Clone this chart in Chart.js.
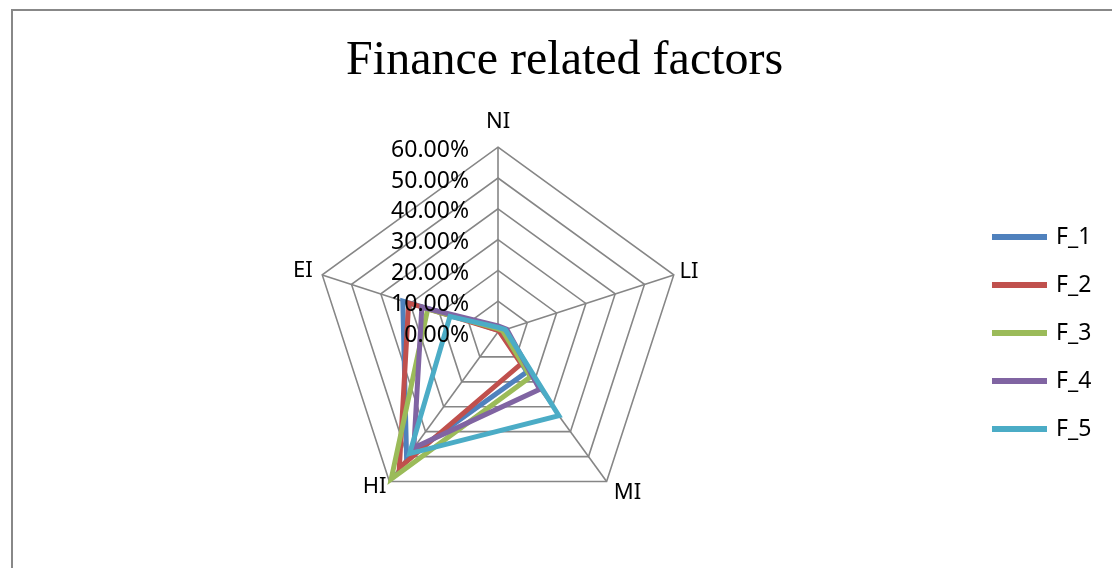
<!DOCTYPE html>
<html>
<head>
<meta charset="utf-8">
<script src="https://cdn.jsdelivr.net/npm/chart.js@4/dist/chart.umd.min.js"></script>
<style>
  html, body { margin: 0; padding: 0; background: #fff; }
  #frame {
    position: absolute; left: 11px; top: 9px; width: 1200px; height: 700px;
    border: 2px solid #888;
  }
  #wrap { position: absolute; left: 0; top: 0; width: 1112px; height: 568px; }
</style>
</head>
<body>
<div id="frame"></div>
<div id="wrap"><canvas id="chart" width="1112" height="568"></canvas></div>
<script>
// Categories (axes) and series, in percent
const axes = ["NI", "LI", "MI", "HI", "EI"]
const seriesNames = ["F_1", "F_2", "F_3", "F_4", "F_5"]
const f1 = [1.0, 1.0, 16.0, 50.5, 32.5]
const f2 = [0.5, 0.5, 12.8, 54.5, 30.5]
const f3 = [1.0, 1.5, 18.0, 59.0, 24.0]
const f4 = [2.0, 3.0, 23.0, 46.5, 26.0]
const f5 = [1.5, 2.5, 33.6, 48.8, 16.4]
const colors = ["#4F81BD", "#C0504D", "#9BBB59", "#8064A2", "#4BACC6"]
const tickMax = 60
const tickStep = 10

const seriesData = [f1, f2, f3, f4, f5]
const fontFamily = "'Noto Sans', 'DejaVu Sans', sans-serif"

// Tick labels sit left of the NI axis, above the series lines
const tickLabels = {
  id: "tickLabels",
  afterDatasetsDraw(chart) {
    const s = chart.scales.r
    const ctx = chart.ctx
    ctx.save()
    ctx.font = "23px " + fontFamily
    ctx.fillStyle = "#000"
    ctx.textAlign = "right"
    ctx.textBaseline = "middle"
    s.ticks.forEach((t) => {
      const d = s.getDistanceFromCenterForValue(t.value)
      ctx.fillText(t.value.toFixed(2) + "%", s.xCenter - 29, s.yCenter - d + 3)
    })
    ctx.restore()
  },
}

const labelPadding = [24, 6, 12, 5, 10]

new Chart(document.getElementById("chart"), {
  type: "radar",
  data: {
    labels: axes,
    datasets: seriesNames.map((name, i) => ({
      label: name,
      data: seriesData[i],
      borderColor: colors[i],
      backgroundColor: colors[i],
      borderWidth: 5,
      fill: false,
      pointRadius: 0,
      pointHoverRadius: 0,
      tension: 0,
      order: seriesNames.length - i,
    })),
  },
  options: {
    responsive: false,
    animation: false,
    layout: { padding: { left: 28, right: 10.7, top: 10, bottom: 38 } },
    plugins: {
      title: {
        display: true,
        text: "Finance related factors",
        color: "#000",
        font: { family: "'Liberation Serif', 'Times New Roman', serif", size: 48, weight: "normal" },
        padding: { top: 23, bottom: 17.4 },
      },
      legend: {
        position: "right",
        fullSize: false,
        title: { display: true, text: " ", font: { size: 20 }, padding: 2 },
        labels: {
          color: "#000",
          font: { family: fontFamily, size: 23 },
          boxWidth: 50,
          boxHeight: 1,
          padding: 25,
          sort: (a, b) => a.datasetIndex - b.datasetIndex,
        },
      },
      tooltip: { enabled: false },
    },
    scales: {
      r: {
        min: 0,
        max: tickMax,
        ticks: { stepSize: tickStep, display: false },
        grid: { color: "#868686", lineWidth: 1.6 },
        angleLines: { color: "#868686", lineWidth: 1.6 },
        pointLabels: {
          color: "#000",
          font: { family: fontFamily, size: 22, lineHeight: 0.1 },
          padding: (ctx) => labelPadding[ctx.index],
        },
      },
    },
  },
  plugins: [tickLabels],
})
</script>
</body>
</html>
